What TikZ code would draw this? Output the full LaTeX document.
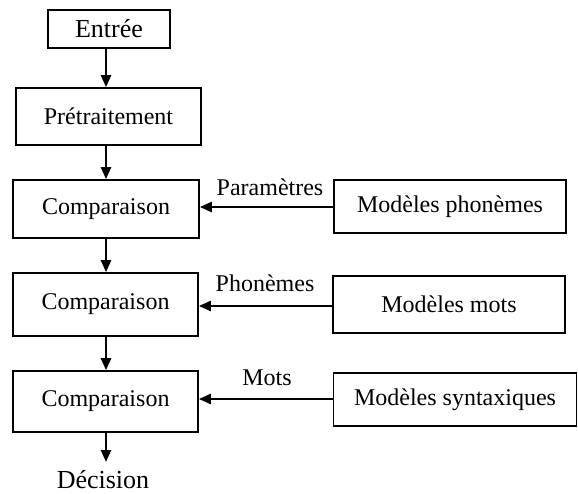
\documentclass[tikz,border=0pt]{standalone}
\usepackage{fontspec}
\setmainfont{Liberation Serif}
\usetikzlibrary{arrows.meta}
\begin{document}
\begin{tikzpicture}[x=1pt,y=-1pt,
  box/.style={draw,line width=1.6pt,inner sep=0pt,font=\fontsize{24}{28}\selectfont},
  lab/.style={inner sep=0pt,font=\fontsize{24}{28}\selectfont},
  arr/.style={line width=2.4pt,-{Triangle[length=12pt,width=10pt]}}]
\useasboundingbox (0,0) rectangle (578,494);
\node[box,minimum width=122pt,minimum height=38pt,font=\fontsize{26}{30}\selectfont] (entree) at (109,29) {Entrée};
\node[box,minimum width=185pt,minimum height=57pt] (pret) at (108.5,116.5) {Prétraitement};
\node[box,minimum width=186pt,minimum height=58pt] (c1) at (106,209) {Comparaison};
\node[box,minimum width=185pt,minimum height=63pt] (c2) at (105.5,304.5) {Comparaison};
\node[box,minimum width=185pt,minimum height=61pt] (c3) at (105.5,401.5) {Comparaison};
\node[box,minimum width=232pt,minimum height=53pt] (mp) at (450,206.5) {Modèles phonèmes};
\node[box,minimum width=232pt,minimum height=57pt] (mm) at (449,304.5) {Modèles mots};
\node[box,minimum width=243pt,minimum height=53pt] (ms) at (455,399.5) {Modèles syntaxiques};
\node[lab,font=\fontsize{26}{30}\selectfont] (dec) at (103,480) {Décision};
\node[lab] (l1) at (270,187) {Paramètres};
\node[lab] (l2) at (265,283) {Phonèmes};
\node[lab] (l3) at (267,378) {Mots};
\coordinate (cx) at (106,0);
\draw[arr] (entree.south -| cx) -- (pret.north -| cx);
\draw[arr] (pret.south -| cx) -- (c1.north -| cx);
\draw[arr] (c1.south -| cx) -- (c2.north -| cx);
\draw[arr] (c2.south -| cx) -- (c3.north -| cx);
\coordinate (dend) at (106,462);
\draw[arr] (c3.south -| cx) -- (dend);
\coordinate (y1) at (0,207);
\coordinate (y2) at (0,306);
\coordinate (y3) at (0,399);
\draw[arr] (mp.west |- y1) -- (c1.east |- y1);
\draw[arr] (mm.west |- y2) -- (c2.east |- y2);
\draw[arr] (ms.west |- y3) -- (c3.east |- y3);
\end{tikzpicture}
\end{document}
